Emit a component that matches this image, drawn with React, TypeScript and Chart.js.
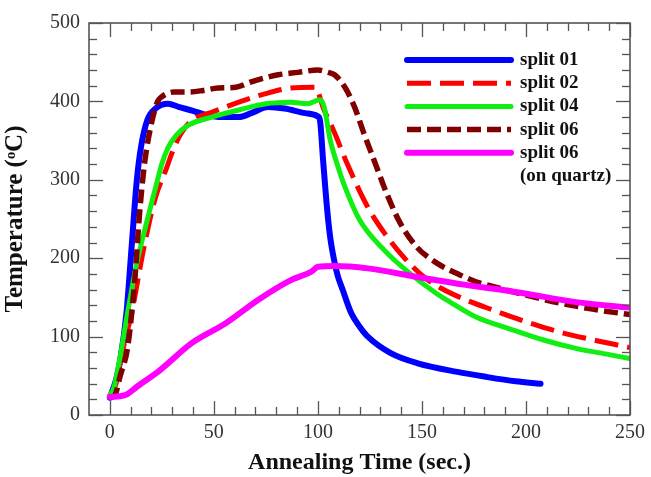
import React, { useEffect, useRef } from "react";
import { Chart, registerables } from "chart.js";

Chart.register(...registerables);

// Annealing time (s) and temperature (°C) for each split
const split01Time = [0, 3, 5, 8, 10.5, 13, 15, 18, 22, 28, 33, 40, 46, 54, 62, 68, 76, 84, 94, 100, 101, 102.5, 104.5, 106, 108, 109.5, 112, 116, 120, 124, 135, 148, 167, 180, 195, 207];
const split01Temp = [22, 45, 70, 130, 215, 300, 342, 376, 391, 397, 393, 388, 383, 380, 380, 385, 393, 391, 385, 381, 376, 325, 261, 225, 195, 178, 159, 130, 113, 100, 79, 66, 55, 49, 43, 40];

const split02Time = [0, 3, 6, 10.5, 16.5, 22, 27, 30, 34, 39.5, 49, 62, 75, 87, 98.5, 103, 108, 114, 124, 132, 141, 151, 159, 171, 184, 200, 216, 232, 250];
const split02Temp = [22, 40, 80, 130, 215, 278, 313, 335, 358, 376, 386, 399, 410, 417, 418, 389, 360, 321, 265, 232, 202, 176, 162, 147, 134, 119, 106, 96, 86];

const split04Time = [0, 2, 5, 8.5, 13, 18, 22, 25, 28, 32, 38, 49, 62, 75, 87, 95, 101, 103, 106, 109.5, 113, 120, 132, 144, 157, 163, 176, 192, 208, 224, 240, 250];
const split04Temp = [25, 35, 75, 130, 194, 249, 290, 320, 341, 357, 370, 380, 389, 397, 399, 397, 402, 393, 350, 318, 291, 249, 210, 181, 155, 145, 125, 110, 96, 85, 77, 72];

const split06Time = [0, 2.4, 5, 8.6, 12, 14.3, 16.7, 20, 23, 25, 31, 38, 45, 52, 60.5, 68, 76, 81, 90.5, 100, 105, 108, 113, 117.6, 122, 127, 133, 139.5, 147.6, 157, 168, 176, 184, 200, 216, 232, 250];
const split06Temp = [22, 25, 50, 87, 172, 257, 321, 372, 400, 406, 412, 412, 414, 417, 418, 425, 431, 434, 437, 440, 437, 434, 418, 393, 360, 325, 283, 245, 214, 194, 179, 170, 164, 153, 143, 135, 128];

const quartzTime = [0, 5, 8, 13, 24, 39.5, 55.7, 71.4, 87, 97, 100, 108, 124, 148, 171, 195, 224, 250];
const quartzTemp = [23, 24, 26, 36, 57, 92, 117, 147, 172, 183, 189, 190, 187, 176, 166, 157, 144, 137];

const seriesLabels = ["split 01", "split 02", "split 04", "split 06", "split 06\n(on quartz)"];

const xTickValues = [0, 50, 100, 150, 200, 250];
const yTickValues = [0, 100, 200, 300, 400, 500];
const xMinorStep = 10;
const yMinorStep = 20;

const SERIF = "'Liberation Serif', 'Times New Roman', serif";

const toPoints = (t: number[], v: number[]) => t.map((x, i) => ({ x, y: v[i] }));

// Boxed frame with inward-facing major and minor ticks on all four sides
const frameTicks = {
  id: "frameTicks",
  afterDatasetsDraw(chart: any) {
    const { ctx, chartArea: a, scales } = chart;
    const x = scales.x;
    const y = scales.y;
    ctx.save();
    ctx.strokeStyle = "#555";
    ctx.lineWidth = 1.3;
    const seg = (x1: number, y1: number, x2: number, y2: number) => {
      ctx.beginPath();
      ctx.moveTo(x1, y1);
      ctx.lineTo(x2, y2);
      ctx.stroke();
    };
    for (let v = 0; v <= xTickValues[xTickValues.length - 1]; v += xMinorStep) {
      const px = Math.round(x.getPixelForValue(v)) + 0.5;
      const len = xTickValues.includes(v) ? 14 : 8;
      seg(px, a.bottom, px, a.bottom - len);
      seg(px, a.top, px, a.top + len);
    }
    for (let v = 0; v <= yTickValues[yTickValues.length - 1]; v += yMinorStep) {
      const py = Math.round(y.getPixelForValue(v)) + 0.5;
      const len = yTickValues.includes(v) ? 14 : 8;
      seg(a.left, py, a.left + len, py);
      seg(a.right, py, a.right - len, py);
    }
    ctx.lineWidth = 1.6;
    ctx.strokeRect(a.left, a.top, a.right - a.left, a.bottom - a.top);
    ctx.restore();
  },
};

// Legend with line samples drawn in each series' own stroke style
const lineLegend = {
  id: "lineLegend",
  afterDraw(chart: any) {
    const { ctx } = chart;
    const x0 = 407;
    const x1 = 511;
    const textX = 520;
    let rowY = 60;
    const rowGap = 23.2;
    ctx.save();
    ctx.font = `bold 19px ${SERIF}`;
    ctx.textBaseline = "middle";
    ctx.textAlign = "left";
    chart.data.datasets.forEach((ds: any) => {
      ctx.strokeStyle = ds.borderColor;
      ctx.lineWidth = ds.borderWidth;
      ctx.setLineDash(ds.borderDash || []);
      ctx.lineCap = ds.borderDash ? "butt" : "round";
      ctx.beginPath();
      ctx.moveTo(x0, rowY);
      ctx.lineTo(x1, rowY);
      ctx.stroke();
      ctx.setLineDash([]);
      ctx.fillStyle = "#111";
      const lines = String(ds.label).split("\n");
      lines.forEach((ln: string, i: number) => {
        ctx.fillText(ln, textX, rowY + i * rowGap);
      });
      rowY += rowGap * lines.length;
    });
    ctx.restore();
  },
};

export default function App() {
  const canvasRef = useRef<HTMLCanvasElement | null>(null);

  useEffect(() => {
    if (!canvasRef.current) return;
    const chart = new Chart(canvasRef.current, {
      type: "line",
      data: {
        datasets: [
          {
            label: seriesLabels[0],
            data: toPoints(split01Time, split01Temp),
            borderColor: "#0000ff",
            borderWidth: 6,
            borderCapStyle: "round",
            order: 5,
          },
          {
            label: seriesLabels[1],
            data: toPoints(split02Time, split02Temp),
            borderColor: "#ff0000",
            borderWidth: 5,
            borderDash: [24, 9],
            order: 4,
          },
          {
            label: seriesLabels[2],
            data: toPoints(split04Time, split04Temp),
            borderColor: "#11ee11",
            borderWidth: 5,
            borderCapStyle: "round",
            order: 3,
          },
          {
            label: seriesLabels[3],
            data: toPoints(split06Time, split06Temp),
            borderColor: "#800000",
            borderWidth: 5.5,
            borderDash: [14, 6],
            order: 2,
          },
          {
            label: seriesLabels[4],
            data: toPoints(quartzTime, quartzTemp),
            borderColor: "#ff00ff",
            borderWidth: 6,
            borderCapStyle: "round",
            order: 1,
          },
        ] as any,
      },
      options: {
        animation: false,
        responsive: false,
        events: [],
        layout: { padding: { top: 23, right: 16, left: 0, bottom: 0 } },
        elements: {
          point: { radius: 0 },
          line: { cubicInterpolationMode: "monotone", borderJoinStyle: "round", fill: false },
        },
        plugins: { legend: { display: false }, tooltip: { enabled: false } },
        scales: {
          x: {
            type: "linear",
            min: -10,
            max: 250,
            grid: { display: false, drawTicks: false },
            border: { display: false },
            afterBuildTicks: (s: any) => {
              s.ticks = xTickValues.map((value) => ({ value }));
            },
            afterFit: (s: any) => {
              s.height = 62;
            },
            ticks: {
              padding: 6,
              maxRotation: 0,
              autoSkip: false,
              color: "#333",
              font: { family: SERIF, size: 20 },
            },
            title: {
              display: true,
              text: "Annealing Time (sec.)",
              color: "#111",
              font: { family: SERIF, size: 24, weight: "bold", lineHeight: 1.2 },
              padding: { top: 0, bottom: 0 },
            },
          },
          y: {
            type: "linear",
            min: 0,
            max: 500,
            grid: { display: false, drawTicks: false },
            border: { display: false },
            afterBuildTicks: (s: any) => {
              s.ticks = yTickValues.map((value) => ({ value }));
            },
            afterFit: (s: any) => {
              s.width = 89;
            },
            ticks: {
              padding: 9,
              autoSkip: false,
              color: "#333",
              font: { family: SERIF, size: 20 },
            },
            title: {
              display: true,
              text: "Temperature (ᵒC)",
              color: "#111",
              font: { family: SERIF, size: 25, weight: "bold", lineHeight: 1.2 },
              padding: { top: 1, bottom: 0 },
            },
          },
        },
      } as any,
      plugins: [frameTicks, lineLegend],
    });
    return () => chart.destroy();
  }, []);

  return (
    <div style={{ position: "absolute", left: 0, top: 0, width: 651, height: 477, background: "#fff" }}>
      <canvas ref={canvasRef} width={651} height={477} />
    </div>
  );
}
